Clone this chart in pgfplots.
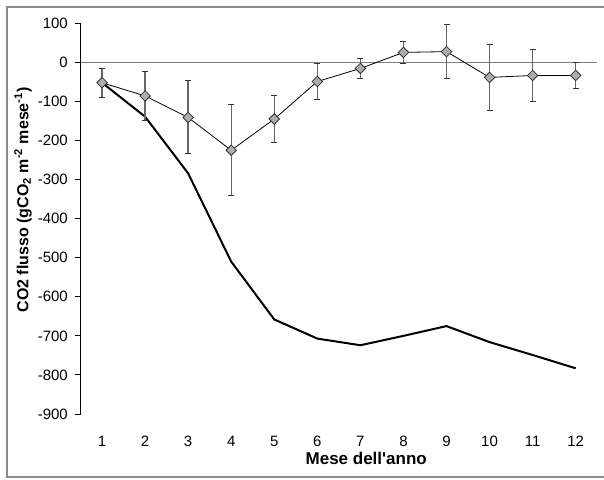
\documentclass[border=0pt]{standalone}
\usepackage{fontspec}
\setmainfont{Liberation Sans}
\newfontfamily\plainq{Liberation Sans}
\usepackage{pgfplots}
\pgfplotsset{compat=1.18}
\begin{document}
\begin{tikzpicture}[x=1pt,y=1pt]
\begin{axis}[
  at={(0,0)}, anchor=south west,
  scale only axis, width=516.7pt, height=390.7pt,
  xmin=0.5, xmax=12.5, ymin=-900, ymax=100,
  axis y line*=left, axis x line*=bottom,
  x axis line style={draw=none},
  y axis line style={black, line width=1.1pt},
  xtick={1,2,3,4,5,6,7,8,9,10,11,12},
  xtick style={draw=none},
  ytick={-900,-800,-700,-600,-500,-400,-300,-200,-100,0,100},
  ytick style={black, line width=1pt},
  tick align=outside, major tick length=5pt,
  extra y ticks={0}, extra y tick labels={},
  extra y tick style={grid=major, major grid style={draw=black!50, line width=1.6pt}},
  tick label style={font=\fontsize{15}{17}\selectfont},
  /pgf/number format/assume math mode=true,
  xticklabel style={anchor=base, inner sep=0pt, yshift=-27.8pt},
  yticklabel style={anchor=east, inner sep=0pt, xshift=-7.5pt},
  xlabel={\textbf{Mese dell{\plainq\bfseries '}anno}},
  xlabel style={at={(axis description cs:0.553,0)}, anchor=base, yshift=-50.3pt, inner sep=0pt, font=\fontsize{17}{19}\selectfont},
  ylabel={\textbf{CO2 flusso (gCO\textsubscript{2} m\textsuperscript{-2} mese\textsuperscript{-1})}},
  ylabel style={at={(axis description cs:-0.1113,0.548)}, anchor=center, font=\fontsize{16}{18}\selectfont},
  clip=false,
]
\addplot[black, line width=2pt, no marks] coordinates {
 (1,-52) (2,-139) (3,-284) (4,-510) (5,-658) (6,-707) (7,-724) (8,-700) (9,-675) (10,-716) (11,-749) (12,-783)
};
\addplot[black, line width=0.8pt, mark=square*, mark size=3.7pt,
  mark options={rotate=45, fill=black!32, draw=black!80, line width=0.8pt},
  error bars/.cd, y dir=both, y explicit,
  error bar style={draw=black!60, line width=1.3pt},
  error mark options={rotate=90, mark size=3pt, draw=black!80, line width=1pt}]
 table[x=x, y=y, y error=e] {
x y e
1 -52 37.5
2 -86 63
3 -141 93.5
4 -225 116
5 -145 60
6 -49 47
7 -15.5 26.5
8 25.5 27.5
9 27.5 69.5
10 -38.5 83.5
11 -33.5 67.5
12 -33.5 32.5
};
\end{axis}
\draw[black!45, line width=1.3pt] (530,407) -- (-73.5,407) -- (-73.5,-63) -- (530,-63);
\pgfresetboundingbox
\useasboundingbox (-80.5,-65) rectangle (523.5,414);
\end{tikzpicture}
\end{document}
